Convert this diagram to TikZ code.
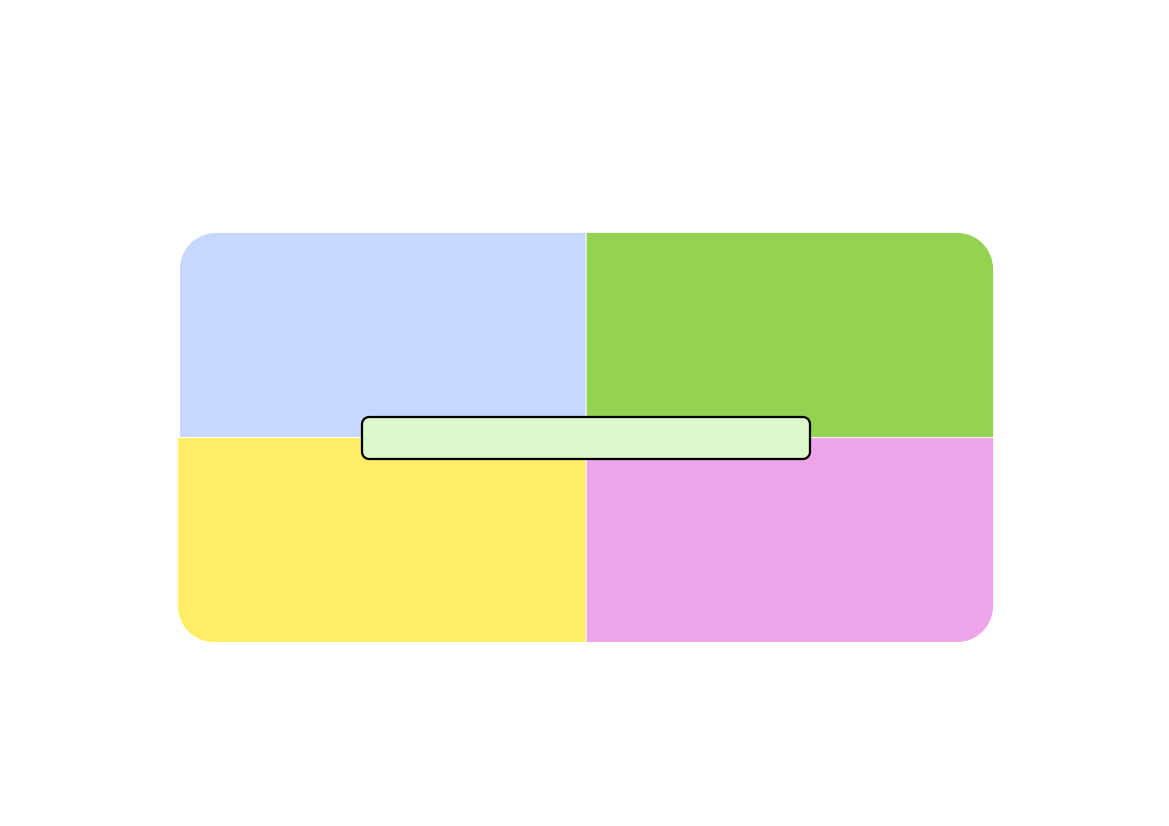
\documentclass[tikz,border=0pt]{standalone}
\usepackage{tikz}

\definecolor{qblue}{HTML}{C6D8FF}
\definecolor{qgreen}{HTML}{94D251}
\definecolor{qyellow}{HTML}{FFED66}
\definecolor{qpink}{HTML}{EDA4E9}
\definecolor{barfill}{HTML}{DDF9CB}

\begin{document}
\begin{tikzpicture}
\useasboundingbox (0,0) rectangle (11.69,8.26);

\fill[qblue] (5.855,3.89) -- (1.80,3.89) [rounded corners=0.36cm] -- (1.80,5.93) [sharp corners] -- (5.855,5.93) -- cycle;
\fill[qgreen] (5.865,3.89) -- (5.865,5.93) [rounded corners=0.36cm] -- (9.93,5.93) [sharp corners] -- (9.93,3.89) -- cycle;
\fill[qyellow] (5.855,3.88) -- (1.78,3.88) [rounded corners=0.36cm] -- (1.78,1.84) [sharp corners] -- (5.855,1.84) -- cycle;
\fill[qpink] (5.865,3.88) -- (5.865,1.84) [rounded corners=0.36cm] -- (9.93,1.84) [sharp corners] -- (9.93,3.88) -- cycle;

\node[draw=black,fill=barfill,rounded corners=0.07cm,line width=0.6pt,minimum width=4.48cm,minimum height=0.42cm,inner sep=0pt] (bar) at (5.86,3.88) {};
\end{tikzpicture}
\end{document}
